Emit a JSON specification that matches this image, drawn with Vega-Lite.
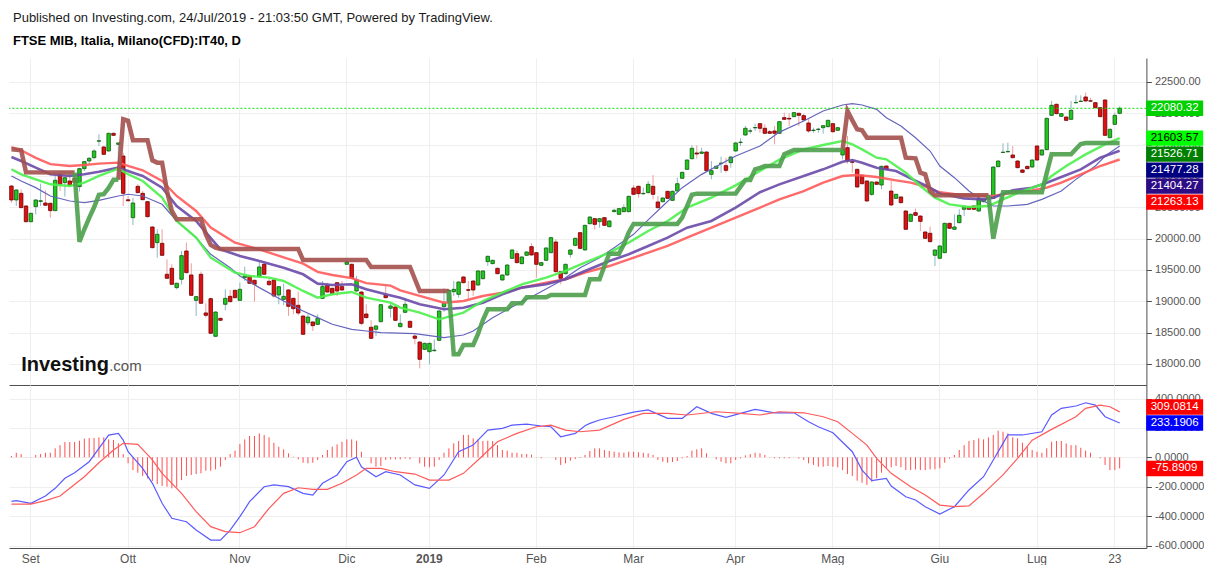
{
"$schema":"https://vega.github.io/schema/vega-lite/v6.json",
"background":"#ffffff",
"padding":{"left":2,"top":12,"right":0,"bottom":0},
"config":{"view":{"stroke":null},"font":"Liberation Sans","axis":{"labelOverlap":false},"locale":{"number":{"decimal":".","thousands":",","grouping":[3],"currency":["",""],"minus":"-"}}},
"title":{"text":"Published on Investing.com, 24/Jul/2019 - 21:03:50 GMT, Powered by TradingView.","subtitle":"FTSE MIB, Italia, Milano(CFD):IT40, D","anchor":"start","frame":"group","dx":4,"font":"Liberation Sans","fontSize":13,"fontWeight":"normal","color":"#1a1a1a","subtitleFont":"Liberation Sans","subtitleFontSize":13,"subtitleFontWeight":"bold","subtitleColor":"#000000","subtitlePadding":10,"offset":10},
"datasets":{
"px":[
{"d":"2018-08-28","o":20840,"h":20851,"l":20574,"c":20617,"m":9},
{"d":"2018-08-29","o":20617,"h":20787,"l":20521,"c":20777,"m":31},
{"d":"2018-08-30","o":20723,"h":20787,"l":20484,"c":20495,"m":22},
{"d":"2018-08-31","o":20521,"h":20537,"l":20255,"c":20271,"m":2},
{"d":"2018-09-03","o":20271,"h":20415,"l":20260,"c":20404,"m":-2},
{"d":"2018-09-04","o":20511,"h":20628,"l":20388,"c":20617,"m":16},
{"d":"2018-09-05","o":20595,"h":20878,"l":20521,"c":20605,"m":22},
{"d":"2018-09-06","o":20569,"h":20771,"l":20521,"c":20532,"m":31},
{"d":"2018-09-07","o":20564,"h":20574,"l":20335,"c":20447,"m":31},
{"d":"2018-09-10","o":20447,"h":21000,"l":20441,"c":20931,"m":61},
{"d":"2018-09-11","o":21027,"h":21037,"l":20761,"c":20867,"m":83},
{"d":"2018-09-12","o":20894,"h":20984,"l":20670,"c":20973,"m":104},
{"d":"2018-09-13","o":20920,"h":21069,"l":20840,"c":20851,"m":104},
{"d":"2018-09-14","o":20963,"h":20973,"l":20884,"c":20894,"m":104},
{"d":"2018-09-17","o":20830,"h":21133,"l":20750,"c":21117,"m":113},
{"d":"2018-09-18","o":21117,"h":21239,"l":21080,"c":21229,"m":127},
{"d":"2018-09-19","o":21239,"h":21303,"l":21186,"c":21282,"m":131},
{"d":"2018-09-20","o":21293,"h":21426,"l":21266,"c":21399,"m":131},
{"d":"2018-09-21","o":21555,"h":21665,"l":21479,"c":21562,"m":136},
{"d":"2018-09-24","o":21463,"h":21479,"l":21335,"c":21346,"m":136},
{"d":"2018-09-25","o":21399,"h":21691,"l":21388,"c":21681,"m":122},
{"d":"2018-09-26","o":21681,"h":21691,"l":21638,"c":21649,"m":118},
{"d":"2018-09-27","o":21505,"h":21537,"l":20973,"c":21527,"m":95},
{"d":"2018-09-28","o":21319,"h":21372,"l":20521,"c":20723,"m":22},
{"d":"2018-10-01","o":20620,"h":20681,"l":20590,"c":20605,"m":-41},
{"d":"2018-10-02","o":20335,"h":20654,"l":20218,"c":20569,"m":-87},
{"d":"2018-10-03","o":20835,"h":20867,"l":20723,"c":20734,"m":-105},
{"d":"2018-10-04","o":20723,"h":20760,"l":20612,"c":20622,"m":-127},
{"d":"2018-10-05","o":20590,"h":20601,"l":20335,"c":20351,"m":-143},
{"d":"2018-10-08","o":20186,"h":20197,"l":19845,"c":19856,"m":-161},
{"d":"2018-10-09","o":19936,"h":20149,"l":19696,"c":20069,"m":-182},
{"d":"2018-10-10","o":19925,"h":20149,"l":19723,"c":19734,"m":-195},
{"d":"2018-10-11","o":19431,"h":19670,"l":19356,"c":19367,"m":-200},
{"d":"2018-10-12","o":19526,"h":19590,"l":19260,"c":19271,"m":-211},
{"d":"2018-10-15","o":19218,"h":19298,"l":19191,"c":19287,"m":-204},
{"d":"2018-10-16","o":19351,"h":19803,"l":19271,"c":19729,"m":-155},
{"d":"2018-10-17","o":19803,"h":19936,"l":19446,"c":19457,"m":-127},
{"d":"2018-10-18","o":19420,"h":19606,"l":19085,"c":19095,"m":-120},
{"d":"2018-10-19","o":19015,"h":19085,"l":18766,"c":19074,"m":-114},
{"d":"2018-10-22","o":19431,"h":19473,"l":18957,"c":18968,"m":-109},
{"d":"2018-10-23","o":18814,"h":18968,"l":18739,"c":18776,"m":-91},
{"d":"2018-10-24","o":19042,"h":19058,"l":18478,"c":18489,"m":-91},
{"d":"2018-10-25","o":18441,"h":18840,"l":18430,"c":18829,"m":-82},
{"d":"2018-10-26","o":18728,"h":18739,"l":18686,"c":18697,"m":-64},
{"d":"2018-10-29","o":18952,"h":19191,"l":18856,"c":19047,"m":-18},
{"d":"2018-10-30","o":19079,"h":19181,"l":18984,"c":18994,"m":22},
{"d":"2018-10-31","o":19175,"h":19186,"l":19047,"c":19058,"m":45},
{"d":"2018-11-01","o":19015,"h":19298,"l":19005,"c":19191,"m":90},
{"d":"2018-11-02","o":19377,"h":19553,"l":19324,"c":19404,"m":122},
{"d":"2018-11-05","o":19404,"h":19414,"l":19276,"c":19287,"m":145},
{"d":"2018-11-06","o":19335,"h":19345,"l":18995,"c":19271,"m":145},
{"d":"2018-11-07","o":19393,"h":19627,"l":19382,"c":19548,"m":163},
{"d":"2018-11-08","o":19590,"h":19643,"l":19420,"c":19431,"m":152},
{"d":"2018-11-09","o":19319,"h":19367,"l":19244,"c":19266,"m":136},
{"d":"2018-11-12","o":19340,"h":19351,"l":19058,"c":19085,"m":99},
{"d":"2018-11-13","o":19101,"h":19244,"l":18952,"c":19234,"m":72},
{"d":"2018-11-14","o":19031,"h":19282,"l":18941,"c":19079,"m":54},
{"d":"2018-11-15","o":19181,"h":19191,"l":18766,"c":18920,"m":27},
{"d":"2018-11-16","o":19047,"h":19058,"l":18792,"c":18882,"m":4},
{"d":"2018-11-19","o":18936,"h":19154,"l":18776,"c":18813,"m":-14},
{"d":"2018-11-20","o":18765,"h":18776,"l":18462,"c":18473,"m":-37},
{"d":"2018-11-21","o":18659,"h":18792,"l":18620,"c":18749,"m":-41},
{"d":"2018-11-22","o":18670,"h":18680,"l":18526,"c":18611,"m":-37},
{"d":"2018-11-23","o":18632,"h":18792,"l":18622,"c":18728,"m":-18},
{"d":"2018-11-26","o":19047,"h":19324,"l":19036,"c":19234,"m":16},
{"d":"2018-11-27","o":19255,"h":19297,"l":19138,"c":19148,"m":50},
{"d":"2018-11-28","o":19207,"h":19218,"l":19112,"c":19122,"m":72},
{"d":"2018-11-29","o":19297,"h":19308,"l":19085,"c":19164,"m":88},
{"d":"2018-11-30","o":19234,"h":19324,"l":19170,"c":19180,"m":106},
{"d":"2018-12-03","o":19590,"h":19686,"l":19580,"c":19627,"m":122},
{"d":"2018-12-04","o":19590,"h":19601,"l":19356,"c":19367,"m":122},
{"d":"2018-12-05","o":19164,"h":19404,"l":19154,"c":19335,"m":113},
{"d":"2018-12-06","o":19148,"h":19164,"l":18616,"c":18648,"m":38},
{"d":"2018-12-07","o":18797,"h":18952,"l":18728,"c":18739,"m":0},
{"d":"2018-12-10","o":18585,"h":18696,"l":18398,"c":18409,"m":-41},
{"d":"2018-12-11","o":18553,"h":18617,"l":18446,"c":18606,"m":-64},
{"d":"2018-12-12","o":18675,"h":18957,"l":18664,"c":18946,"m":-59},
{"d":"2018-12-13","o":19095,"h":19244,"l":19047,"c":19058,"m":-18},
{"d":"2018-12-14","o":18888,"h":18978,"l":18739,"c":18925,"m":-14},
{"d":"2018-12-17","o":18909,"h":18920,"l":18686,"c":18696,"m":-14},
{"d":"2018-12-18","o":18595,"h":18792,"l":18584,"c":18648,"m":-14},
{"d":"2018-12-19","o":18824,"h":19058,"l":18813,"c":18952,"m":-9},
{"d":"2018-12-20","o":18680,"h":18691,"l":18574,"c":18585,"m":-14},
{"d":"2018-12-21","o":18446,"h":18473,"l":18313,"c":18409,"m":0},
{"d":"2018-12-27","o":18350,"h":18361,"l":17930,"c":18074,"m":-41},
{"d":"2018-12-28","o":18233,"h":18340,"l":18222,"c":18329,"m":-64},
{"d":"2019-01-02","o":18196,"h":18340,"l":17994,"c":18329,"m":-68},
{"d":"2019-01-03","o":18212,"h":18393,"l":18196,"c":18220,"m":-64},
{"d":"2019-01-04","o":18377,"h":18856,"l":18366,"c":18845,"m":-18},
{"d":"2019-01-07","o":18914,"h":19207,"l":18835,"c":18968,"m":31},
{"d":"2019-01-08","o":18994,"h":19186,"l":18984,"c":19175,"m":61},
{"d":"2019-01-09","o":19154,"h":19324,"l":19085,"c":19191,"m":95},
{"d":"2019-01-10","o":19111,"h":19319,"l":19058,"c":19308,"m":111},
{"d":"2019-01-11","o":19388,"h":19399,"l":19286,"c":19297,"m":152},
{"d":"2019-01-14","o":19185,"h":19324,"l":19031,"c":19175,"m":152},
{"d":"2019-01-15","o":19324,"h":19335,"l":19085,"c":19180,"m":129},
{"d":"2019-01-16","o":19260,"h":19494,"l":19250,"c":19484,"m":122},
{"d":"2019-01-17","o":19361,"h":19494,"l":19350,"c":19484,"m":111},
{"d":"2019-01-18","o":19633,"h":19728,"l":19563,"c":19718,"m":113},
{"d":"2019-01-21","o":19601,"h":19665,"l":19590,"c":19654,"m":111},
{"d":"2019-01-22","o":19526,"h":19537,"l":19430,"c":19441,"m":83},
{"d":"2019-01-23","o":19340,"h":19430,"l":19330,"c":19420,"m":50},
{"d":"2019-01-24","o":19420,"h":19590,"l":19409,"c":19579,"m":45},
{"d":"2019-01-25","o":19686,"h":19829,"l":19675,"c":19819,"m":31},
{"d":"2019-01-28","o":19760,"h":19813,"l":19606,"c":19617,"m":31},
{"d":"2019-01-29","o":19601,"h":19718,"l":19590,"c":19707,"m":22},
{"d":"2019-01-30","o":19734,"h":19797,"l":19723,"c":19787,"m":22},
{"d":"2019-01-31","o":19872,"h":19925,"l":19728,"c":19739,"m":18},
{"d":"2019-02-01","o":19776,"h":19787,"l":19377,"c":19590,"m":-2},
{"d":"2019-02-04","o":19574,"h":19628,"l":19563,"c":19617,"m":-7},
{"d":"2019-02-05","o":19654,"h":19861,"l":19643,"c":19851,"m":0},
{"d":"2019-02-06","o":19776,"h":20026,"l":19766,"c":20016,"m":0},
{"d":"2019-02-07","o":19946,"h":19989,"l":19462,"c":19473,"m":-18},
{"d":"2019-02-08","o":19473,"h":19484,"l":19271,"c":19367,"m":-52},
{"d":"2019-02-11","o":19441,"h":19601,"l":19430,"c":19590,"m":-41},
{"d":"2019-02-12","o":19750,"h":19829,"l":19696,"c":19819,"m":-23},
{"d":"2019-02-13","o":19893,"h":20016,"l":19882,"c":20005,"m":-12},
{"d":"2019-02-14","o":20095,"h":20106,"l":19834,"c":19845,"m":-5},
{"d":"2019-02-15","o":19819,"h":20222,"l":19808,"c":20212,"m":16},
{"d":"2019-02-18","o":20239,"h":20356,"l":20228,"c":20345,"m":43},
{"d":"2019-02-19","o":20319,"h":20330,"l":20149,"c":20228,"m":61},
{"d":"2019-02-20","o":20271,"h":20330,"l":20175,"c":20319,"m":61},
{"d":"2019-02-21","o":20335,"h":20345,"l":20201,"c":20212,"m":49},
{"d":"2019-02-22","o":20191,"h":20292,"l":20180,"c":20282,"m":43},
{"d":"2019-02-25","o":20431,"h":20479,"l":20420,"c":20452,"m":38},
{"d":"2019-02-26","o":20388,"h":20489,"l":20377,"c":20479,"m":34},
{"d":"2019-02-27","o":20431,"h":20548,"l":20420,"c":20494,"m":31},
{"d":"2019-02-28","o":20431,"h":20686,"l":20420,"c":20675,"m":38},
{"d":"2019-03-01","o":20808,"h":20856,"l":20696,"c":20707,"m":38},
{"d":"2019-03-04","o":20835,"h":20846,"l":20654,"c":20718,"m":34},
{"d":"2019-03-05","o":20715,"h":20814,"l":20707,"c":20722,"m":31},
{"d":"2019-03-06","o":20734,"h":20920,"l":20723,"c":20867,"m":27},
{"d":"2019-03-07","o":20835,"h":21016,"l":20627,"c":20707,"m":16},
{"d":"2019-03-08","o":20585,"h":20681,"l":20483,"c":20494,"m":-18},
{"d":"2019-03-11","o":20590,"h":20660,"l":20579,"c":20649,"m":-30},
{"d":"2019-03-12","o":20755,"h":20766,"l":20632,"c":20643,"m":-37},
{"d":"2019-03-13","o":20611,"h":20766,"l":20600,"c":20755,"m":-32},
{"d":"2019-03-14","o":20760,"h":20973,"l":20750,"c":20877,"m":-25},
{"d":"2019-03-15","o":20963,"h":21069,"l":20952,"c":21058,"m":-7},
{"d":"2019-03-18","o":21106,"h":21266,"l":21096,"c":21255,"m":9},
{"d":"2019-03-19","o":21276,"h":21489,"l":21266,"c":21441,"m":45},
{"d":"2019-03-20","o":21367,"h":21489,"l":21276,"c":21351,"m":54},
{"d":"2019-03-21","o":21361,"h":21452,"l":21351,"c":21383,"m":61},
{"d":"2019-03-22","o":21383,"h":21393,"l":21074,"c":21085,"m":27},
{"d":"2019-03-25","o":21026,"h":21239,"l":20947,"c":21085,"m":0},
{"d":"2019-03-26","o":21122,"h":21165,"l":21112,"c":21154,"m":-14},
{"d":"2019-03-27","o":21200,"h":21308,"l":21053,"c":21205,"m":-30},
{"d":"2019-03-28","o":21165,"h":21292,"l":21053,"c":21090,"m":-41},
{"d":"2019-03-29","o":21213,"h":21314,"l":21133,"c":21303,"m":-41},
{"d":"2019-04-01","o":21399,"h":21537,"l":21388,"c":21527,"m":-18},
{"d":"2019-04-02","o":21535,"h":21601,"l":21479,"c":21540,"m":-7},
{"d":"2019-04-03","o":21654,"h":21798,"l":21643,"c":21761,"m":13},
{"d":"2019-04-04","o":21715,"h":21761,"l":21675,"c":21720,"m":22},
{"d":"2019-04-05","o":21768,"h":21835,"l":21718,"c":21774,"m":31},
{"d":"2019-04-08","o":21835,"h":21846,"l":21691,"c":21761,"m":27},
{"d":"2019-04-09","o":21761,"h":21824,"l":21670,"c":21681,"m":16},
{"d":"2019-04-10","o":21707,"h":21734,"l":21670,"c":21681,"m":-2},
{"d":"2019-04-11","o":21718,"h":21798,"l":21505,"c":21681,"m":-7},
{"d":"2019-04-12","o":21681,"h":21878,"l":21670,"c":21867,"m":-7},
{"d":"2019-04-15","o":21931,"h":22011,"l":21894,"c":21904,"m":-7},
{"d":"2019-04-16","o":21920,"h":22000,"l":21798,"c":21909,"m":-7},
{"d":"2019-04-17","o":21947,"h":22021,"l":21936,"c":22011,"m":-2},
{"d":"2019-04-18","o":22000,"h":22011,"l":21798,"c":21968,"m":-9},
{"d":"2019-04-23","o":21963,"h":21995,"l":21883,"c":21894,"m":-18},
{"d":"2019-04-24","o":21846,"h":21904,"l":21691,"c":21718,"m":-41},
{"d":"2019-04-25","o":21725,"h":21771,"l":21691,"c":21732,"m":-52},
{"d":"2019-04-26","o":21742,"h":21771,"l":21691,"c":21748,"m":-64},
{"d":"2019-04-29","o":21771,"h":21814,"l":21675,"c":21803,"m":-64},
{"d":"2019-04-30","o":21787,"h":21899,"l":21776,"c":21888,"m":-59},
{"d":"2019-05-02","o":21835,"h":21846,"l":21691,"c":21707,"m":-64},
{"d":"2019-05-03","o":21729,"h":21782,"l":21718,"c":21771,"m":-68},
{"d":"2019-05-06","o":21335,"h":21505,"l":21266,"c":21425,"m":-87},
{"d":"2019-05-07","o":21452,"h":21638,"l":21197,"c":21239,"m":-114},
{"d":"2019-05-08","o":21228,"h":21239,"l":21053,"c":21218,"m":-127},
{"d":"2019-05-09","o":21106,"h":21117,"l":20814,"c":20824,"m":-159},
{"d":"2019-05-10","o":21010,"h":21026,"l":20866,"c":20877,"m":-173},
{"d":"2019-05-13","o":20920,"h":20930,"l":20590,"c":20601,"m":-188},
{"d":"2019-05-14","o":20707,"h":20914,"l":20681,"c":20904,"m":-166},
{"d":"2019-05-15","o":20904,"h":20914,"l":20856,"c":20867,"m":-143},
{"d":"2019-05-16","o":20856,"h":21165,"l":20787,"c":21154,"m":-105},
{"d":"2019-05-17","o":21159,"h":21170,"l":21096,"c":21106,"m":-75},
{"d":"2019-05-20","o":20760,"h":20920,"l":20521,"c":20537,"m":-68},
{"d":"2019-05-21","o":20643,"h":20718,"l":20632,"c":20707,"m":-59},
{"d":"2019-05-22","o":20665,"h":20675,"l":20563,"c":20574,"m":-68},
{"d":"2019-05-23","o":20441,"h":20452,"l":20138,"c":20149,"m":-87},
{"d":"2019-05-24","o":20276,"h":20399,"l":20265,"c":20388,"m":-87},
{"d":"2019-05-27","o":20415,"h":20479,"l":20361,"c":20372,"m":-82},
{"d":"2019-05-28","o":20361,"h":20372,"l":20122,"c":20276,"m":-87},
{"d":"2019-05-29","o":20106,"h":20117,"l":19995,"c":20005,"m":-87},
{"d":"2019-05-30","o":20085,"h":20191,"l":19941,"c":19952,"m":-82},
{"d":"2019-05-31","o":19734,"h":19829,"l":19563,"c":19819,"m":-82},
{"d":"2019-06-03","o":19686,"h":19893,"l":19675,"c":19883,"m":-75},
{"d":"2019-06-04","o":19776,"h":20255,"l":19766,"c":20244,"m":-37},
{"d":"2019-06-05","o":20244,"h":20255,"l":20154,"c":20165,"m":-9},
{"d":"2019-06-06","o":20149,"h":20388,"l":20138,"c":20186,"m":16},
{"d":"2019-06-07","o":20255,"h":20468,"l":20244,"c":20372,"m":50},
{"d":"2019-06-10","o":20468,"h":20516,"l":20361,"c":20505,"m":83},
{"d":"2019-06-11","o":20505,"h":20516,"l":20457,"c":20468,"m":111},
{"d":"2019-06-12","o":20521,"h":20532,"l":20457,"c":20468,"m":118},
{"d":"2019-06-13","o":20441,"h":20707,"l":20430,"c":20643,"m":129},
{"d":"2019-06-14","o":20590,"h":20638,"l":20579,"c":20627,"m":122},
{"d":"2019-06-17","o":20675,"h":20707,"l":20616,"c":20627,"m":136},
{"d":"2019-06-18","o":20643,"h":21154,"l":20632,"c":21143,"m":152},
{"d":"2019-06-19","o":21149,"h":21250,"l":21138,"c":21239,"m":181},
{"d":"2019-06-20","o":21375,"h":21521,"l":21367,"c":21380,"m":174},
{"d":"2019-06-21","o":21385,"h":21532,"l":21378,"c":21391,"m":163},
{"d":"2019-06-24","o":21335,"h":21479,"l":21281,"c":21292,"m":136},
{"d":"2019-06-25","o":21239,"h":21250,"l":21122,"c":21133,"m":129},
{"d":"2019-06-26","o":21096,"h":21106,"l":21047,"c":21058,"m":99},
{"d":"2019-06-27","o":21154,"h":21165,"l":21106,"c":21117,"m":72},
{"d":"2019-06-28","o":21143,"h":21266,"l":21133,"c":21255,"m":50},
{"d":"2019-07-01","o":21479,"h":21489,"l":21244,"c":21255,"m":38},
{"d":"2019-07-02","o":21335,"h":21425,"l":21324,"c":21415,"m":31},
{"d":"2019-07-03","o":21420,"h":21931,"l":21409,"c":21920,"m":61},
{"d":"2019-07-04","o":21968,"h":22197,"l":21957,"c":22128,"m":106},
{"d":"2019-07-05","o":22144,"h":22155,"l":21984,"c":21995,"m":111},
{"d":"2019-07-08","o":21952,"h":22006,"l":21941,"c":21995,"m":111},
{"d":"2019-07-09","o":21941,"h":21952,"l":21877,"c":21888,"m":95},
{"d":"2019-07-10","o":21904,"h":22197,"l":21893,"c":22048,"m":83},
{"d":"2019-07-11","o":22168,"h":22287,"l":22160,"c":22173,"m":83},
{"d":"2019-07-12","o":22189,"h":22287,"l":22181,"c":22195,"m":65},
{"d":"2019-07-15","o":22261,"h":22330,"l":22186,"c":22197,"m":45},
{"d":"2019-07-16","o":22200,"h":22250,"l":22186,"c":22194,"m":31},
{"d":"2019-07-17","o":22170,"h":22181,"l":22079,"c":22090,"m":0},
{"d":"2019-07-18","o":22090,"h":22101,"l":21936,"c":21947,"m":-7},
{"d":"2019-07-19","o":22213,"h":22224,"l":21638,"c":21649,"m":-52},
{"d":"2019-07-22","o":21612,"h":21756,"l":21601,"c":21745,"m":-87},
{"d":"2019-07-23","o":21824,"h":22011,"l":21813,"c":21968,"m":-87},
{"d":"2019-07-24","o":22000,"h":22112,"l":21984,"c":22080.32,"m":-75.89}
],
"ma":[
{"d":"2018-08-28","s":"r","v":21460},{"d":"2018-08-30","s":"r","v":21410},{"d":"2018-09-04","s":"r","v":21290},{"d":"2018-09-07","s":"r","v":21190},{"d":"2018-09-13","s":"r","v":21160},{"d":"2018-09-18","s":"r","v":21176},{"d":"2018-09-21","s":"r","v":21197},{"d":"2018-09-27","s":"r","v":21213},{"d":"2018-10-01","s":"r","v":21160},{"d":"2018-10-04","s":"r","v":21091},{"d":"2018-10-10","s":"r","v":20920},{"d":"2018-10-15","s":"r","v":20681},{"d":"2018-10-19","s":"r","v":20442},{"d":"2018-10-24","s":"r","v":20176},{"d":"2018-10-31","s":"r","v":19936},{"d":"2018-11-07","s":"r","v":19830},{"d":"2018-11-14","s":"r","v":19700},{"d":"2018-11-20","s":"r","v":19600},{"d":"2018-11-23","s":"r","v":19470},{"d":"2018-11-28","s":"r","v":19420},{"d":"2018-12-04","s":"r","v":19370},{"d":"2018-12-07","s":"r","v":19290},{"d":"2018-12-14","s":"r","v":19250},{"d":"2018-12-18","s":"r","v":19175},{"d":"2018-12-27","s":"r","v":19085},{"d":"2019-01-07","s":"r","v":18978},{"d":"2019-01-11","s":"r","v":19005},{"d":"2019-01-17","s":"r","v":19085},{"d":"2019-01-23","s":"r","v":19138},{"d":"2019-01-29","s":"r","v":19218},{"d":"2019-02-05","s":"r","v":19297},{"d":"2019-02-11","s":"r","v":19351},{"d":"2019-02-15","s":"r","v":19457},{"d":"2019-02-22","s":"r","v":19563},{"d":"2019-02-28","s":"r","v":19670},{"d":"2019-03-06","s":"r","v":19776},{"d":"2019-03-12","s":"r","v":19883},{"d":"2019-03-18","s":"r","v":20016},{"d":"2019-03-25","s":"r","v":20175},{"d":"2019-04-01","s":"r","v":20335},{"d":"2019-04-08","s":"r","v":20494},{"d":"2019-04-12","s":"r","v":20627},{"d":"2019-04-23","s":"r","v":20760},{"d":"2019-04-29","s":"r","v":20893},{"d":"2019-05-06","s":"r","v":20999},{"d":"2019-05-09","s":"r","v":21015},{"d":"2019-05-15","s":"r","v":20983},{"d":"2019-05-21","s":"r","v":20930},{"d":"2019-05-24","s":"r","v":20893},{"d":"2019-05-29","s":"r","v":20830},{"d":"2019-06-03","s":"r","v":20740},{"d":"2019-06-07","s":"r","v":20700},{"d":"2019-06-14","s":"r","v":20680},{"d":"2019-06-18","s":"r","v":20680},{"d":"2019-06-24","s":"r","v":20733},{"d":"2019-06-28","s":"r","v":20771},{"d":"2019-07-03","s":"r","v":20813},{"d":"2019-07-08","s":"r","v":20893},{"d":"2019-07-12","s":"r","v":21026},{"d":"2019-07-18","s":"r","v":21159},{"d":"2019-07-24","s":"r","v":21263},
{"d":"2018-08-28","s":"p","v":21303},{"d":"2018-08-30","s":"p","v":21240},{"d":"2018-09-04","s":"p","v":21133},{"d":"2018-09-07","s":"p","v":21027},{"d":"2018-09-13","s":"p","v":21000},{"d":"2018-09-18","s":"p","v":21027},{"d":"2018-09-21","s":"p","v":21069},{"d":"2018-09-27","s":"p","v":21133},{"d":"2018-10-02","s":"p","v":21053},{"d":"2018-10-04","s":"p","v":21000},{"d":"2018-10-10","s":"p","v":20814},{"d":"2018-10-15","s":"p","v":20521},{"d":"2018-10-19","s":"p","v":20282},{"d":"2018-10-23","s":"p","v":20100},{"d":"2018-10-26","s":"p","v":19830},{"d":"2018-11-01","s":"p","v":19723},{"d":"2018-11-07","s":"p","v":19644},{"d":"2018-11-14","s":"p","v":19537},{"d":"2018-11-20","s":"p","v":19431},{"d":"2018-11-23","s":"p","v":19282},{"d":"2018-11-28","s":"p","v":19261},{"d":"2018-12-04","s":"p","v":19271},{"d":"2018-12-07","s":"p","v":19191},{"d":"2018-12-13","s":"p","v":19112},{"d":"2018-12-18","s":"p","v":19058},{"d":"2018-12-27","s":"p","v":18952},{"d":"2019-01-07","s":"p","v":18872},{"d":"2019-01-11","s":"p","v":18898},{"d":"2019-01-17","s":"p","v":18978},{"d":"2019-01-23","s":"p","v":19111},{"d":"2019-01-29","s":"p","v":19218},{"d":"2019-02-05","s":"p","v":19271},{"d":"2019-02-11","s":"p","v":19351},{"d":"2019-02-15","s":"p","v":19484},{"d":"2019-02-22","s":"p","v":19643},{"d":"2019-02-28","s":"p","v":19750},{"d":"2019-03-06","s":"p","v":19883},{"d":"2019-03-12","s":"p","v":20016},{"d":"2019-03-18","s":"p","v":20175},{"d":"2019-03-25","s":"p","v":20282},{"d":"2019-04-01","s":"p","v":20494},{"d":"2019-04-08","s":"p","v":20740},{"d":"2019-04-12","s":"p","v":20866},{"d":"2019-04-23","s":"p","v":20999},{"d":"2019-04-29","s":"p","v":21106},{"d":"2019-05-06","s":"p","v":21228},{"d":"2019-05-08","s":"p","v":21255},{"d":"2019-05-10","s":"p","v":21212},{"d":"2019-05-15","s":"p","v":21132},{"d":"2019-05-21","s":"p","v":21079},{"d":"2019-05-24","s":"p","v":20962},{"d":"2019-05-30","s":"p","v":20813},{"d":"2019-06-03","s":"p","v":20720},{"d":"2019-06-10","s":"p","v":20643},{"d":"2019-06-14","s":"p","v":20627},{"d":"2019-06-18","s":"p","v":20654},{"d":"2019-06-24","s":"p","v":20771},{"d":"2019-06-28","s":"p","v":20813},{"d":"2019-07-03","s":"p","v":20893},{"d":"2019-07-08","s":"p","v":20983},{"d":"2019-07-12","s":"p","v":21106},{"d":"2019-07-18","s":"p","v":21292},{"d":"2019-07-24","s":"p","v":21404},
{"d":"2018-08-28","s":"e","v":21107},{"d":"2018-08-30","s":"e","v":21027},{"d":"2018-09-04","s":"e","v":20947},{"d":"2018-09-07","s":"e","v":20867},{"d":"2018-09-13","s":"e","v":20841},{"d":"2018-09-18","s":"e","v":20894},{"d":"2018-09-21","s":"e","v":21000},{"d":"2018-09-27","s":"e","v":21117},{"d":"2018-10-01","s":"e","v":21027},{"d":"2018-10-04","s":"e","v":20920},{"d":"2018-10-10","s":"e","v":20654},{"d":"2018-10-15","s":"e","v":20282},{"d":"2018-10-19","s":"e","v":20016},{"d":"2018-10-24","s":"e","v":19697},{"d":"2018-10-31","s":"e","v":19457},{"d":"2018-11-05","s":"e","v":19404},{"d":"2018-11-09","s":"e","v":19378},{"d":"2018-11-14","s":"e","v":19324},{"d":"2018-11-20","s":"e","v":19165},{"d":"2018-11-23","s":"e","v":19058},{"d":"2018-11-28","s":"e","v":19112},{"d":"2018-12-04","s":"e","v":19149},{"d":"2018-12-07","s":"e","v":19058},{"d":"2018-12-14","s":"e","v":18979},{"d":"2018-12-18","s":"e","v":18898},{"d":"2018-12-27","s":"e","v":18819},{"d":"2019-01-04","s":"e","v":18712},{"d":"2019-01-11","s":"e","v":18819},{"d":"2019-01-17","s":"e","v":19005},{"d":"2019-01-23","s":"e","v":19138},{"d":"2019-01-29","s":"e","v":19271},{"d":"2019-02-05","s":"e","v":19377},{"d":"2019-02-11","s":"e","v":19484},{"d":"2019-02-15","s":"e","v":19617},{"d":"2019-02-22","s":"e","v":19776},{"d":"2019-02-28","s":"e","v":19936},{"d":"2019-03-06","s":"e","v":20122},{"d":"2019-03-12","s":"e","v":20282},{"d":"2019-03-18","s":"e","v":20494},{"d":"2019-03-25","s":"e","v":20654},{"d":"2019-04-01","s":"e","v":20850},{"d":"2019-04-08","s":"e","v":21080},{"d":"2019-04-12","s":"e","v":21260},{"d":"2019-04-23","s":"e","v":21425},{"d":"2019-04-29","s":"e","v":21494},{"d":"2019-05-06","s":"e","v":21558},{"d":"2019-05-08","s":"e","v":21505},{"d":"2019-05-10","s":"e","v":21425},{"d":"2019-05-15","s":"e","v":21292},{"d":"2019-05-17","s":"e","v":21265},{"d":"2019-05-23","s":"e","v":21053},{"d":"2019-05-28","s":"e","v":20840},{"d":"2019-05-31","s":"e","v":20654},{"d":"2019-06-05","s":"e","v":20547},{"d":"2019-06-11","s":"e","v":20505},{"d":"2019-06-17","s":"e","v":20521},{"d":"2019-06-20","s":"e","v":20627},{"d":"2019-06-26","s":"e","v":20760},{"d":"2019-07-02","s":"e","v":20866},{"d":"2019-07-04","s":"e","v":20999},{"d":"2019-07-09","s":"e","v":21159},{"d":"2019-07-15","s":"e","v":21345},{"d":"2019-07-19","s":"e","v":21505},{"d":"2019-07-24","s":"e","v":21604},
{"d":"2018-08-28","s":"n","v":21000},{"d":"2018-08-30","s":"n","v":20920},{"d":"2018-09-04","s":"n","v":20814},{"d":"2018-09-07","s":"n","v":20681},{"d":"2018-09-13","s":"n","v":20601},{"d":"2018-09-18","s":"n","v":20575},{"d":"2018-09-21","s":"n","v":20612},{"d":"2018-09-27","s":"n","v":20681},{"d":"2018-10-01","s":"n","v":20708},{"d":"2018-10-04","s":"n","v":20681},{"d":"2018-10-10","s":"n","v":20548},{"d":"2018-10-15","s":"n","v":20282},{"d":"2018-10-19","s":"n","v":20016},{"d":"2018-10-24","s":"n","v":19750},{"d":"2018-10-30","s":"n","v":19537},{"d":"2018-11-01","s":"n","v":19404},{"d":"2018-11-07","s":"n","v":19218},{"d":"2018-11-14","s":"n","v":19005},{"d":"2018-11-20","s":"n","v":18846},{"d":"2018-11-23","s":"n","v":18739},{"d":"2018-11-28","s":"n","v":18633},{"d":"2018-12-04","s":"n","v":18553},{"d":"2018-12-07","s":"n","v":18526},{"d":"2018-12-12","s":"n","v":18499},{"d":"2018-12-21","s":"n","v":18483},{"d":"2019-01-07","s":"n","v":18419},{"d":"2019-01-11","s":"n","v":18462},{"d":"2019-01-15","s":"n","v":18526},{"d":"2019-01-21","s":"n","v":18739},{"d":"2019-01-28","s":"n","v":18952},{"d":"2019-02-01","s":"n","v":19111},{"d":"2019-02-08","s":"n","v":19324},{"d":"2019-02-14","s":"n","v":19537},{"d":"2019-02-20","s":"n","v":19696},{"d":"2019-02-25","s":"n","v":19856},{"d":"2019-03-01","s":"n","v":20069},{"d":"2019-03-06","s":"n","v":20300},{"d":"2019-03-11","s":"n","v":20520},{"d":"2019-03-15","s":"n","v":20814},{"d":"2019-03-21","s":"n","v":21026},{"d":"2019-04-01","s":"n","v":21319},{"d":"2019-04-08","s":"n","v":21478},{"d":"2019-04-12","s":"n","v":21700},{"d":"2019-04-23","s":"n","v":21877},{"d":"2019-04-29","s":"n","v":22037},{"d":"2019-05-06","s":"n","v":22133},{"d":"2019-05-08","s":"n","v":22154},{"d":"2019-05-10","s":"n","v":22133},{"d":"2019-05-15","s":"n","v":22063},{"d":"2019-05-17","s":"n","v":21930},{"d":"2019-05-22","s":"n","v":21797},{"d":"2019-05-27","s":"n","v":21611},{"d":"2019-05-30","s":"n","v":21398},{"d":"2019-06-03","s":"n","v":21159},{"d":"2019-06-06","s":"n","v":20973},{"d":"2019-06-11","s":"n","v":20760},{"d":"2019-06-14","s":"n","v":20600},{"d":"2019-06-18","s":"n","v":20521},{"d":"2019-06-21","s":"n","v":20521},{"d":"2019-06-27","s":"n","v":20547},{"d":"2019-07-02","s":"n","v":20627},{"d":"2019-07-08","s":"n","v":20760},{"d":"2019-07-11","s":"n","v":20946},{"d":"2019-07-17","s":"n","v":21159},{"d":"2019-07-19","s":"n","v":21319},{"d":"2019-07-24","s":"n","v":21477}
],
"st":[
{"d":"2018-08-28","g":1,"v":21426},{"d":"2018-08-29","g":1,"v":21420},{"d":"2018-08-30","g":1,"v":21410},{"d":"2018-08-31","g":1,"v":21060},{"d":"2018-09-14","g":1,"v":21055},
{"d":"2018-09-14","g":2,"v":21055},{"d":"2018-09-17","g":2,"v":19950},{"d":"2018-09-18","g":2,"v":20150},{"d":"2018-09-19","g":2,"v":20330},{"d":"2018-09-20","g":2,"v":20500},{"d":"2018-09-21","g":2,"v":20700},{"d":"2018-09-24","g":2,"v":20710},{"d":"2018-09-25","g":2,"v":20810},{"d":"2018-09-26","g":2,"v":20940},{"d":"2018-09-27","g":2,"v":20940},
{"d":"2018-09-27","g":3,"v":20940},{"d":"2018-09-28","g":3,"v":21904},{"d":"2018-10-01","g":3,"v":21880},{"d":"2018-10-02","g":3,"v":21570},{"d":"2018-10-05","g":3,"v":21570},{"d":"2018-10-08","g":3,"v":21250},{"d":"2018-10-09","g":3,"v":21213},{"d":"2018-10-10","g":3,"v":21213},{"d":"2018-10-11","g":3,"v":20761},{"d":"2018-10-12","g":3,"v":20441},{"d":"2018-10-15","g":3,"v":20308},{"d":"2018-10-22","g":3,"v":20308},{"d":"2018-10-23","g":3,"v":20069},{"d":"2018-10-24","g":3,"v":19900},{"d":"2018-10-25","g":3,"v":19856},{"d":"2018-10-26","g":3,"v":19835},{"d":"2018-11-19","g":3,"v":19835},{"d":"2018-11-20","g":3,"v":19660},{"d":"2018-12-07","g":3,"v":19660},{"d":"2018-12-10","g":3,"v":19548},{"d":"2018-12-20","g":3,"v":19548},{"d":"2018-12-21","g":3,"v":19356},{"d":"2018-12-27","g":3,"v":19164},{"d":"2019-01-08","g":3,"v":19164},
{"d":"2019-01-08","g":4,"v":19164},{"d":"2019-01-09","g":4,"v":18154},{"d":"2019-01-10","g":4,"v":18154},{"d":"2019-01-11","g":4,"v":18303},{"d":"2019-01-15","g":4,"v":18303},{"d":"2019-01-16","g":4,"v":18480},{"d":"2019-01-17","g":4,"v":18700},{"d":"2019-01-18","g":4,"v":18872},{"d":"2019-01-24","g":4,"v":18872},{"d":"2019-01-25","g":4,"v":18968},{"d":"2019-01-29","g":4,"v":18968},{"d":"2019-01-30","g":4,"v":19065},{"d":"2019-02-05","g":4,"v":19065},{"d":"2019-02-06","g":4,"v":19100},{"d":"2019-02-15","g":4,"v":19100},{"d":"2019-02-18","g":4,"v":19351},{"d":"2019-02-20","g":4,"v":19351},{"d":"2019-02-21","g":4,"v":19563},{"d":"2019-02-22","g":4,"v":19760},{"d":"2019-02-26","g":4,"v":19760},{"d":"2019-02-27","g":4,"v":19909},{"d":"2019-02-28","g":4,"v":20100},{"d":"2019-03-01","g":4,"v":20235},{"d":"2019-03-14","g":4,"v":20235},{"d":"2019-03-15","g":4,"v":20335},{"d":"2019-03-18","g":4,"v":20520},{"d":"2019-03-19","g":4,"v":20700},{"d":"2019-03-20","g":4,"v":20718},{"d":"2019-04-01","g":4,"v":20720},{"d":"2019-04-02","g":4,"v":20830},{"d":"2019-04-03","g":4,"v":20936},{"d":"2019-04-04","g":4,"v":20936},{"d":"2019-04-05","g":4,"v":21106},{"d":"2019-04-08","g":4,"v":21130},{"d":"2019-04-09","g":4,"v":21159},{"d":"2019-04-12","g":4,"v":21159},{"d":"2019-04-15","g":4,"v":21346},{"d":"2019-04-16","g":4,"v":21380},{"d":"2019-04-17","g":4,"v":21415},{"d":"2019-05-06","g":4,"v":21415},
{"d":"2019-05-06","g":5,"v":21415},{"d":"2019-05-07","g":5,"v":22037},{"d":"2019-05-08","g":5,"v":21888},{"d":"2019-05-09","g":5,"v":21745},{"d":"2019-05-10","g":5,"v":21729},{"d":"2019-05-13","g":5,"v":21612},{"d":"2019-05-22","g":5,"v":21612},{"d":"2019-05-23","g":5,"v":21292},{"d":"2019-05-27","g":5,"v":21282},{"d":"2019-05-28","g":5,"v":21053},{"d":"2019-05-29","g":5,"v":21026},{"d":"2019-05-30","g":5,"v":20760},{"d":"2019-05-31","g":5,"v":20692},{"d":"2019-06-17","g":5,"v":20692},
{"d":"2019-06-17","g":6,"v":20692},{"d":"2019-06-18","g":6,"v":20000},{"d":"2019-06-19","g":6,"v":20400},{"d":"2019-06-20","g":6,"v":20740},{"d":"2019-07-02","g":6,"v":20740},{"d":"2019-07-03","g":6,"v":21050},{"d":"2019-07-04","g":6,"v":21346},{"d":"2019-07-10","g":6,"v":21346},{"d":"2019-07-11","g":6,"v":21430},{"d":"2019-07-12","g":6,"v":21510},{"d":"2019-07-15","g":6,"v":21527},{"d":"2019-07-24","g":6,"v":21526.71}
],
"mc":[
{"d":"2018-08-28","s":"m","v":-300},{"d":"2018-08-29","s":"m","v":-295},{"d":"2018-09-03","s":"m","v":-313},{"d":"2018-09-06","s":"m","v":-263},{"d":"2018-09-10","s":"m","v":-211},{"d":"2018-09-12","s":"m","v":-143},{"d":"2018-09-14","s":"m","v":-105},{"d":"2018-09-19","s":"m","v":-30},{"d":"2018-09-21","s":"m","v":61},{"d":"2018-09-25","s":"m","v":151},{"d":"2018-09-27","s":"m","v":163},{"d":"2018-09-28","s":"m","v":117},{"d":"2018-10-01","s":"m","v":38},{"d":"2018-10-04","s":"m","v":-75},{"d":"2018-10-08","s":"m","v":-177},{"d":"2018-10-10","s":"m","v":-313},{"d":"2018-10-12","s":"m","v":-415},{"d":"2018-10-17","s":"m","v":-438},{"d":"2018-10-19","s":"m","v":-495},{"d":"2018-10-24","s":"m","v":-563},{"d":"2018-10-26","s":"m","v":-563},{"d":"2018-10-30","s":"m","v":-495},{"d":"2018-11-01","s":"m","v":-404},{"d":"2018-11-05","s":"m","v":-302},{"d":"2018-11-08","s":"m","v":-200},{"d":"2018-11-12","s":"m","v":-188},{"d":"2018-11-15","s":"m","v":-200},{"d":"2018-11-20","s":"m","v":-245},{"d":"2018-11-22","s":"m","v":-257},{"d":"2018-11-26","s":"m","v":-177},{"d":"2018-11-29","s":"m","v":-120},{"d":"2018-12-03","s":"m","v":-30},{"d":"2018-12-05","s":"m","v":0},{"d":"2018-12-06","s":"m","v":-64},{"d":"2018-12-11","s":"m","v":-132},{"d":"2018-12-13","s":"m","v":-98},{"d":"2018-12-18","s":"m","v":-120},{"d":"2018-12-21","s":"m","v":-188},{"d":"2019-01-02","s":"m","v":-211},{"d":"2019-01-07","s":"m","v":-120},{"d":"2019-01-10","s":"m","v":38},{"d":"2019-01-15","s":"m","v":83},{"d":"2019-01-18","s":"m","v":185},{"d":"2019-01-23","s":"m","v":197},{"d":"2019-01-25","s":"m","v":219},{"d":"2019-01-30","s":"m","v":226},{"d":"2019-02-04","s":"m","v":213},{"d":"2019-02-06","s":"m","v":208},{"d":"2019-02-08","s":"m","v":140},{"d":"2019-02-13","s":"m","v":163},{"d":"2019-02-15","s":"m","v":215},{"d":"2019-02-18","s":"m","v":231},{"d":"2019-02-20","s":"m","v":254},{"d":"2019-02-25","s":"m","v":276},{"d":"2019-03-01","s":"m","v":308},{"d":"2019-03-06","s":"m","v":322},{"d":"2019-03-12","s":"m","v":265},{"d":"2019-03-15","s":"m","v":265},{"d":"2019-03-20","s":"m","v":344},{"d":"2019-03-25","s":"m","v":299},{"d":"2019-03-28","s":"m","v":272},{"d":"2019-04-02","s":"m","v":299},{"d":"2019-04-05","s":"m","v":326},{"d":"2019-04-11","s":"m","v":303},{"d":"2019-04-17","s":"m","v":303},{"d":"2019-04-24","s":"m","v":242},{"d":"2019-04-26","s":"m","v":208},{"d":"2019-05-02","s":"m","v":167},{"d":"2019-05-08","s":"m","v":38},{"d":"2019-05-10","s":"m","v":-87},{"d":"2019-05-14","s":"m","v":-159},{"d":"2019-05-17","s":"m","v":-143},{"d":"2019-05-20","s":"m","v":-195},{"d":"2019-05-23","s":"m","v":-268},{"d":"2019-05-27","s":"m","v":-290},{"d":"2019-05-29","s":"m","v":-336},{"d":"2019-06-03","s":"m","v":-386},{"d":"2019-06-06","s":"m","v":-336},{"d":"2019-06-11","s":"m","v":-222},{"d":"2019-06-14","s":"m","v":-132},{"d":"2019-06-18","s":"m","v":-18},{"d":"2019-06-20","s":"m","v":95},{"d":"2019-06-21","s":"m","v":152},{"d":"2019-06-26","s":"m","v":152},{"d":"2019-07-02","s":"m","v":174},{"d":"2019-07-04","s":"m","v":288},{"d":"2019-07-08","s":"m","v":333},{"d":"2019-07-11","s":"m","v":349},{"d":"2019-07-15","s":"m","v":371},{"d":"2019-07-17","s":"m","v":355},{"d":"2019-07-19","s":"m","v":276},{"d":"2019-07-24","s":"m","v":233.19},
{"d":"2018-08-28","s":"g","v":-318},{"d":"2018-09-03","s":"g","v":-318},{"d":"2018-09-06","s":"g","v":-295},{"d":"2018-09-11","s":"g","v":-263},{"d":"2018-09-13","s":"g","v":-211},{"d":"2018-09-18","s":"g","v":-132},{"d":"2018-09-21","s":"g","v":-37},{"d":"2018-09-26","s":"g","v":50},{"d":"2018-09-28","s":"g","v":95},{"d":"2018-10-03","s":"g","v":88},{"d":"2018-10-08","s":"g","v":-18},{"d":"2018-10-10","s":"g","v":-109},{"d":"2018-10-16","s":"g","v":-245},{"d":"2018-10-19","s":"g","v":-370},{"d":"2018-10-24","s":"g","v":-472},{"d":"2018-10-29","s":"g","v":-506},{"d":"2018-11-01","s":"g","v":-513},{"d":"2018-11-06","s":"g","v":-472},{"d":"2018-11-09","s":"g","v":-347},{"d":"2018-11-14","s":"g","v":-245},{"d":"2018-11-19","s":"g","v":-207},{"d":"2018-11-22","s":"g","v":-218},{"d":"2018-11-27","s":"g","v":-218},{"d":"2018-11-30","s":"g","v":-177},{"d":"2018-12-05","s":"g","v":-120},{"d":"2018-12-07","s":"g","v":-75},{"d":"2018-12-12","s":"g","v":-75},{"d":"2018-12-17","s":"g","v":-98},{"d":"2018-12-21","s":"g","v":-114},{"d":"2019-01-02","s":"g","v":-155},{"d":"2019-01-08","s":"g","v":-155},{"d":"2019-01-11","s":"g","v":-109},{"d":"2019-01-16","s":"g","v":-18},{"d":"2019-01-22","s":"g","v":106},{"d":"2019-01-28","s":"g","v":163},{"d":"2019-02-01","s":"g","v":208},{"d":"2019-02-06","s":"g","v":219},{"d":"2019-02-11","s":"g","v":185},{"d":"2019-02-14","s":"g","v":174},{"d":"2019-02-20","s":"g","v":185},{"d":"2019-02-27","s":"g","v":258},{"d":"2019-03-05","s":"g","v":299},{"d":"2019-03-12","s":"g","v":299},{"d":"2019-03-18","s":"g","v":288},{"d":"2019-03-26","s":"g","v":310},{"d":"2019-04-02","s":"g","v":299},{"d":"2019-04-08","s":"g","v":288},{"d":"2019-04-12","s":"g","v":310},{"d":"2019-04-23","s":"g","v":303},{"d":"2019-04-29","s":"g","v":276},{"d":"2019-05-03","s":"g","v":242},{"d":"2019-05-08","s":"g","v":163},{"d":"2019-05-13","s":"g","v":83},{"d":"2019-05-15","s":"g","v":-7},{"d":"2019-05-20","s":"g","v":-109},{"d":"2019-05-24","s":"g","v":-200},{"d":"2019-05-29","s":"g","v":-256},{"d":"2019-06-03","s":"g","v":-325},{"d":"2019-06-06","s":"g","v":-336},{"d":"2019-06-11","s":"g","v":-331},{"d":"2019-06-14","s":"g","v":-245},{"d":"2019-06-20","s":"g","v":-120},{"d":"2019-06-25","s":"g","v":-7},{"d":"2019-06-28","s":"g","v":117},{"d":"2019-07-04","s":"g","v":190},{"d":"2019-07-11","s":"g","v":276},{"d":"2019-07-15","s":"g","v":333},{"d":"2019-07-18","s":"g","v":355},{"d":"2019-07-22","s":"g","v":344},{"d":"2019-07-24","s":"g","v":309.08}
],
"tl":[{"d":"2019-07-24","s":"e","v":21603.57},{"d":"2019-07-24","s":"st","v":21526.71},{"d":"2019-07-24","s":"n","v":21477.28},{"d":"2019-07-24","s":"p","v":21404.27},{"d":"2019-07-24","s":"r","v":21263.13}],
"pr":[{"d":"2019-07-24","s":"px","v":22080.32}],
"bl":[{"d":"2019-07-24","s":"sig","v":309.0814},{"d":"2019-07-24","s":"mac","v":233.1906},{"d":"2019-07-24","s":"hist","v":-75.8909}]
},
"spacing":0,
"resolve":{"scale":{"x":"shared","y":"independent","color":"shared"},"axis":{"x":"independent","y":"independent"}},
"vconcat":[
{"width":1137.4,"height":327,
"layer":[
{"data":{"name":"px"},"mark":{"type":"rule","strokeWidth":1},
"encoding":{
"x":{"field":"d","type":"ordinal","sort":"ascending","scale":{"type":"band","paddingInner":0,"paddingOuter":0,"round":false,"domain":{"unionWith":["2019-07-25","2019-07-26","2019-07-29","2019-07-30","2019-07-31"]}},
"axis":{"values":["2018-09-03","2018-10-01","2018-11-01","2018-12-03","2019-01-02","2019-02-01","2019-03-01","2019-04-01","2019-05-02","2019-06-03","2019-07-01","2019-07-23"],"tickCount":40,"labels":false,"ticks":false,"domain":true,"domainColor":"#4d4d4d","grid":true,"gridColor":"#efefef","title":null,"bandPosition":0.5}},
"y":{"field":"l","type":"quantitative","scale":{"domain":[17664,22883],"nice":false,"zero":false},"title":null,
"axis":{"orient":"right","values":[18000,18500,19000,19500,20000,20500,21000,21500,22000,22500],"tickCount":40,"format":".2f","labelOverlap":false,"grid":true,"gridColor":"#efefef","domainColor":"#4d4d4d","tickColor":"#4d4d4d","tickSize":5,"labelColor":"#555555","labelFontSize":11,"labelPadding":3,"title":null}},
"y2":{"field":"h"},
"color":{"condition":{"test":"datum.c >= datum.o","value":"#8cb8c2"},"value":"#f29b9b"}}},
{"data":{"name":"px"},"mark":{"type":"bar","width":{"band":0.72},"strokeWidth":0.8},
"encoding":{
"x":{"field":"d","type":"ordinal","sort":"ascending","scale":{"type":"band","paddingInner":0,"paddingOuter":0,"round":false,"domain":{"unionWith":["2019-07-25","2019-07-26","2019-07-29","2019-07-30","2019-07-31"]}}},
"y":{"field":"o","type":"quantitative","scale":{"domain":[17664,22883],"nice":false,"zero":false},"title":null},
"y2":{"field":"c"},
"fill":{"condition":{"test":"datum.c >= datum.o","value":"#1fc71f"},"value":"#e01010"},
"stroke":{"condition":{"test":"datum.c >= datum.o","value":"#0d5c0d"},"value":"#6b0000"}}},
{"data":{"name":"ma"},"transform":[{"filter":"datum.s == 'n'"}],"mark":{"type":"line","color":"#6565be","strokeWidth":1.2},
"encoding":{"x":{"field":"d","type":"ordinal","sort":"ascending","scale":{"type":"band","paddingInner":0,"paddingOuter":0,"round":false,"domain":{"unionWith":["2019-07-25","2019-07-26","2019-07-29","2019-07-30","2019-07-31"]}}},"y":{"field":"v","type":"quantitative","scale":{"domain":[17664,22883],"nice":false,"zero":false},"title":null}}},
{"data":{"name":"ma"},"transform":[{"filter":"datum.s == 'r'"}],"mark":{"type":"line","color":"#ff5a5a","strokeWidth":2.4,"opacity":0.9},
"encoding":{"x":{"field":"d","type":"ordinal","sort":"ascending","scale":{"type":"band","paddingInner":0,"paddingOuter":0,"round":false,"domain":{"unionWith":["2019-07-25","2019-07-26","2019-07-29","2019-07-30","2019-07-31"]}}},"y":{"field":"v","type":"quantitative","scale":{"domain":[17664,22883],"nice":false,"zero":false},"title":null}}},
{"data":{"name":"ma"},"transform":[{"filter":"datum.s == 'p'"}],"mark":{"type":"line","color":"#6a4aa8","strokeWidth":2.6,"opacity":0.9},
"encoding":{"x":{"field":"d","type":"ordinal","sort":"ascending","scale":{"type":"band","paddingInner":0,"paddingOuter":0,"round":false,"domain":{"unionWith":["2019-07-25","2019-07-26","2019-07-29","2019-07-30","2019-07-31"]}}},"y":{"field":"v","type":"quantitative","scale":{"domain":[17664,22883],"nice":false,"zero":false},"title":null}}},
{"data":{"name":"ma"},"transform":[{"filter":"datum.s == 'e'"}],"mark":{"type":"line","color":"#4def4d","strokeWidth":2.4,"opacity":0.9},
"encoding":{"x":{"field":"d","type":"ordinal","sort":"ascending","scale":{"type":"band","paddingInner":0,"paddingOuter":0,"round":false,"domain":{"unionWith":["2019-07-25","2019-07-26","2019-07-29","2019-07-30","2019-07-31"]}}},"y":{"field":"v","type":"quantitative","scale":{"domain":[17664,22883],"nice":false,"zero":false},"title":null}}},
{"data":{"name":"st"},"transform":[{"filter":"datum.g % 2 == 1"}],"mark":{"type":"line","color":"#a4504c","strokeWidth":4.5,"opacity":0.9},
"encoding":{"x":{"field":"d","type":"ordinal","sort":"ascending","scale":{"type":"band","paddingInner":0,"paddingOuter":0,"round":false,"domain":{"unionWith":["2019-07-25","2019-07-26","2019-07-29","2019-07-30","2019-07-31"]}}},"y":{"field":"v","type":"quantitative","scale":{"domain":[17664,22883],"nice":false,"zero":false},"title":null},"detail":{"field":"g","type":"nominal"}}},
{"data":{"name":"st"},"transform":[{"filter":"datum.g % 2 == 0"}],"mark":{"type":"line","color":"#4c9e4c","strokeWidth":4.5,"opacity":0.9},
"encoding":{"x":{"field":"d","type":"ordinal","sort":"ascending","scale":{"type":"band","paddingInner":0,"paddingOuter":0,"round":false,"domain":{"unionWith":["2019-07-25","2019-07-26","2019-07-29","2019-07-30","2019-07-31"]}}},"y":{"field":"v","type":"quantitative","scale":{"domain":[17664,22883],"nice":false,"zero":false},"title":null},"detail":{"field":"g","type":"nominal"}}},
{"data":{"name":"pr"},"mark":{"type":"rule","color":"#00dd00","strokeWidth":1,"strokeDash":[2,2]},
"encoding":{"y":{"field":"v","type":"quantitative","scale":{"domain":[17664,22883],"nice":false,"zero":false},"title":null}}},
{"data":{"name":"pr"},"mark":{"type":"text","text":"Investing","font":"Liberation Sans","fontWeight":"bold","fontSize":20,"color":"#111111","align":"left","baseline":"alphabetic","dy":7},
"encoding":{"x":{"datum":"2018-08-30","type":"ordinal"},"y":{"datum":18000,"type":"quantitative"}}},
{"data":{"name":"pr"},"mark":{"type":"text","text":".com","font":"Liberation Sans","fontSize":15,"color":"#555555","align":"left","baseline":"alphabetic","dy":7,"dx":88},
"encoding":{"x":{"datum":"2018-08-30","type":"ordinal"},"y":{"datum":18000,"type":"quantitative"}}},
{"data":{"name":"pr"},"layer":[
{"mark":{"type":"point","shape":"M-1,-0.27L1,-0.27L1,0.27L-1,0.27Z","size":3249,"filled":true,"opacity":1,"xOffset":55},
"encoding":{"x":{"field":"d","type":"ordinal","sort":"ascending","scale":{"type":"band","paddingInner":0,"paddingOuter":0,"round":false,"domain":{"unionWith":["2019-07-25","2019-07-26","2019-07-29","2019-07-30","2019-07-31"]}}},"y":{"field":"v","type":"quantitative","scale":{"domain":[17664,22883],"nice":false,"zero":false},"title":null},
"color":{"field":"s","type":"nominal","scale":{"domain":["px","e","st","n","p","r","sig","mac","hist"],"range":["#00d000","#00ff00","#008000","#000080","#2e0c86","#ff0000","#ff0000","#0000ff","#ff0000"]},"legend":null}}},
{"mark":{"type":"text","xOffset":55,"fontSize":11.5,"font":"Liberation Sans","color":"#ffffff"},
"encoding":{"x":{"field":"d","type":"ordinal","sort":"ascending","scale":{"type":"band","paddingInner":0,"paddingOuter":0,"round":false,"domain":{"unionWith":["2019-07-25","2019-07-26","2019-07-29","2019-07-30","2019-07-31"]}}},"y":{"field":"v","type":"quantitative","scale":{"domain":[17664,22883],"nice":false,"zero":false},"title":null},"text":{"field":"v","type":"quantitative","format":".2f"}}}
]},
{"data":{"name":"tl"},
"transform":[{"window":[{"op":"row_number","as":"rk"}],"sort":[{"field":"v","order":"descending"}]},{"joinaggregate":[{"op":"max","field":"v","as":"mx"}]},{"calculate":"min(datum.v, datum.mx - (datum.rk - 1) * 255)","as":"ly"}],
"layer":[
{"mark":{"type":"point","shape":"M-1,-0.27L1,-0.27L1,0.27L-1,0.27Z","size":3249,"filled":true,"opacity":1,"xOffset":55},
"encoding":{"x":{"field":"d","type":"ordinal","sort":"ascending","scale":{"type":"band","paddingInner":0,"paddingOuter":0,"round":false,"domain":{"unionWith":["2019-07-25","2019-07-26","2019-07-29","2019-07-30","2019-07-31"]}}},"y":{"field":"ly","type":"quantitative","scale":{"domain":[17664,22883],"nice":false,"zero":false},"title":null},
"color":{"field":"s","type":"nominal","scale":{"domain":["px","e","st","n","p","r","sig","mac","hist"],"range":["#00d000","#00ff00","#008000","#000080","#2e0c86","#ff0000","#ff0000","#0000ff","#ff0000"]},"legend":null}}},
{"mark":{"type":"text","xOffset":55,"fontSize":11.5,"font":"Liberation Sans"},
"encoding":{"x":{"field":"d","type":"ordinal","sort":"ascending","scale":{"type":"band","paddingInner":0,"paddingOuter":0,"round":false,"domain":{"unionWith":["2019-07-25","2019-07-26","2019-07-29","2019-07-30","2019-07-31"]}}},"y":{"field":"ly","type":"quantitative","scale":{"domain":[17664,22883],"nice":false,"zero":false},"title":null},"text":{"field":"v","type":"quantitative","format":".2f"},
"color":{"condition":{"test":"datum.s == 'e'","value":"#000000"},"value":"#ffffff"}}}
]}
]},
{"width":1137.4,"height":163,
"layer":[
{"data":{"name":"px"},"mark":{"type":"rule","strokeWidth":1,"color":"#ff4d4d"},
"encoding":{
"x":{"field":"d","type":"ordinal","sort":"ascending","scale":{"type":"band","paddingInner":0,"paddingOuter":0,"round":false,"domain":{"unionWith":["2019-07-25","2019-07-26","2019-07-29","2019-07-30","2019-07-31"]}},
"axis":{"values":["2018-09-03","2018-10-01","2018-11-01","2018-12-03","2019-01-02","2019-02-01","2019-03-01","2019-04-01","2019-05-02","2019-06-03","2019-07-01","2019-07-23"],"tickCount":40,"labelExpr":"datum.value == '2019-01-02' ? '2019' : datum.value == '2019-07-23' ? '23' : ['Gen','Feb','Mar','Apr','Mag','Giu','Lug','Ago','Set','Ott','Nov','Dic'][toNumber(substring(datum.value, 5, 7)) - 1]","labelFontWeight":{"condition":{"test":"datum.value == '2019-01-02'","value":"bold"},"value":"normal"},"labelAngle":0,"labelColor":"#555555","labelFontSize":12,"labelFont":"Liberation Sans","labelPadding":6,"ticks":false,"domain":true,"domainColor":"#4d4d4d","grid":true,"gridColor":"#efefef","title":null,"bandPosition":0.5}},
"y":{"field":"m","type":"quantitative","scale":{"domain":[-617,492],"nice":false,"zero":false},"title":null,
"axis":{"orient":"right","values":[-600,-400,-200,0,200,400],"tickCount":40,"format":".4f","labelOverlap":false,"grid":true,"gridColor":"#efefef","domainColor":"#4d4d4d","tickColor":"#4d4d4d","tickSize":5,"labelColor":"#555555","labelFontSize":11,"labelPadding":3,"title":null}},
"y2":{"datum":0}}},
{"data":{"name":"mc"},"transform":[{"filter":"datum.s == 'm'"}],"mark":{"type":"line","color":"#5a5aff","strokeWidth":1.2},
"encoding":{"x":{"field":"d","type":"ordinal","sort":"ascending","scale":{"type":"band","paddingInner":0,"paddingOuter":0,"round":false,"domain":{"unionWith":["2019-07-25","2019-07-26","2019-07-29","2019-07-30","2019-07-31"]}}},"y":{"field":"v","type":"quantitative","scale":{"domain":[-617,492],"nice":false,"zero":false},"title":null}}},
{"data":{"name":"mc"},"transform":[{"filter":"datum.s == 'g'"}],"mark":{"type":"line","color":"#ff5a5a","strokeWidth":1.2},
"encoding":{"x":{"field":"d","type":"ordinal","sort":"ascending","scale":{"type":"band","paddingInner":0,"paddingOuter":0,"round":false,"domain":{"unionWith":["2019-07-25","2019-07-26","2019-07-29","2019-07-30","2019-07-31"]}}},"y":{"field":"v","type":"quantitative","scale":{"domain":[-617,492],"nice":false,"zero":false},"title":null}}},
{"data":{"name":"bl"},
"transform":[{"window":[{"op":"lag","field":"v","as":"pv"}],"sort":[{"field":"v","order":"ascending"}]},{"calculate":"datum.pv == null ? datum.v : max(datum.v, datum.pv + 109)","as":"ly"}],
"layer":[
{"mark":{"type":"point","shape":"M-1,-0.27L1,-0.27L1,0.27L-1,0.27Z","size":3249,"filled":true,"opacity":1,"xOffset":55},
"encoding":{"x":{"field":"d","type":"ordinal","sort":"ascending","scale":{"type":"band","paddingInner":0,"paddingOuter":0,"round":false,"domain":{"unionWith":["2019-07-25","2019-07-26","2019-07-29","2019-07-30","2019-07-31"]}}},"y":{"field":"ly","type":"quantitative","scale":{"domain":[-617,492],"nice":false,"zero":false},"title":null},
"color":{"field":"s","type":"nominal","scale":{"domain":["px","e","st","n","p","r","sig","mac","hist"],"range":["#00d000","#00ff00","#008000","#000080","#2e0c86","#ff0000","#ff0000","#0000ff","#ff0000"]},"legend":null}}},
{"mark":{"type":"text","xOffset":55,"fontSize":11.5,"font":"Liberation Sans","color":"#ffffff"},
"encoding":{"x":{"field":"d","type":"ordinal","sort":"ascending","scale":{"type":"band","paddingInner":0,"paddingOuter":0,"round":false,"domain":{"unionWith":["2019-07-25","2019-07-26","2019-07-29","2019-07-30","2019-07-31"]}}},"y":{"field":"ly","type":"quantitative","scale":{"domain":[-617,492],"nice":false,"zero":false},"title":null},"text":{"field":"v","type":"quantitative","format":".4f"}}}
]}
]}
]
}
